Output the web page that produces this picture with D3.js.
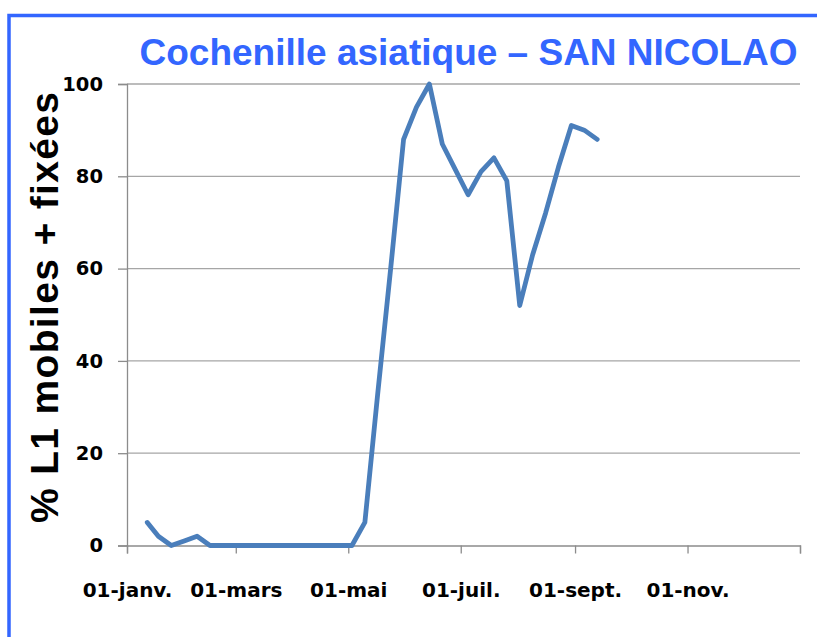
<!DOCTYPE html>
<html>
<head>
<meta charset="utf-8">
<script src="https://cdn.jsdelivr.net/npm/d3@7"></script>
<style>
  html, body { margin: 0; padding: 0; background: #ffffff; }
  svg { display: block; }
</style>
</head>
<body>
<svg id="chart" width="817" height="637"></svg>
<script>
// ---- data ----
const titleText = "Cochenille asiatique \u2013 SAN NICOLAO";
const yTitle = "% L1 mobiles + fixées";
const dates = [
  "2011-01-12","2011-01-18","2011-01-25","2011-02-01","2011-02-08","2011-02-15",
  "2011-02-22","2011-03-01","2011-03-08","2011-03-15","2011-03-22","2011-03-29",
  "2011-04-05","2011-04-12","2011-04-19","2011-04-26","2011-05-03","2011-05-10",
  "2011-05-17","2011-05-24","2011-05-31","2011-06-07","2011-06-14","2011-06-21",
  "2011-06-28","2011-07-05","2011-07-12","2011-07-19","2011-07-26","2011-08-02",
  "2011-08-09","2011-08-16","2011-08-23","2011-08-30","2011-09-06","2011-09-13"
];
const values = [
  5, 2, 0, 1, 2, 0,
  0, 0, 0, 0, 0, 0,
  0, 0, 0, 0, 0, 5,
  33, 60, 88, 95, 100, 87,
  81.5, 76, 81, 84, 79, 52,
  63, 72, 82, 91, 90, 88
];
const xTickDates = ["2011-01-01","2011-03-01","2011-05-01","2011-07-01","2011-09-01","2011-11-01","2012-01-01"];
const xTickLabels = ["01-janv.","01-mars","01-mai","01-juil.","01-sept.","01-nov.",""];
const yTicks = [0, 20, 40, 60, 80, 100];

// ---- layout ----
const svg = d3.select("#chart");
const pLeft = 127, pRight = 800, pTop = 84, pBottom = 545.5;
const parse = d3.timeParse("%Y-%m-%d");

const x = d3.scaleTime()
  .domain([parse("2011-01-01"), parse("2012-01-01")])
  .range([pLeft, pRight]);
const y = d3.scaleLinear().domain([0, 100]).range([pBottom, pTop]);

const gridColor = "#a6a6a6";
const axisColor = "#8c8c8c";
const labelFont = "'DejaVu Sans', Verdana, sans-serif";

// frame (blue border on left and top)
svg.append("path")
  .attr("d", `M9,637 L9,15.5 L817,15.5`)
  .attr("fill", "none")
  .attr("stroke", "#3366ff")
  .attr("stroke-width", 3.5);

// gridlines
svg.append("g")
  .selectAll("line")
  .data(yTicks.filter(d => d !== 0))
  .join("line")
  .attr("x1", pLeft).attr("x2", pRight)
  .attr("y1", d => y(d)).attr("y2", d => y(d))
  .attr("stroke", gridColor)
  .attr("stroke-width", 1.3);

// y axis
const yAxis = svg.append("g")
  .attr("transform", `translate(${pLeft},0)`)
  .call(d3.axisLeft(y).tickValues(yTicks).tickSize(9).tickPadding(15).tickFormat(d3.format("d")));
yAxis.select(".domain").attr("stroke", axisColor).attr("stroke-width", 1.3);
yAxis.selectAll(".tick line").attr("stroke", axisColor).attr("stroke-width", 1.3);
yAxis.selectAll(".tick text")
  .attr("fill", "#000")
  .style("font-family", labelFont)
  .style("font-weight", "bold")
  .style("font-size", "19.5px");

// x axis
const xAxis = svg.append("g")
  .attr("transform", `translate(0,${pBottom})`)
  .call(d3.axisBottom(x)
    .tickValues(xTickDates.map(parse))
    .tickSize(8)
    .tickPadding(29)
    .tickFormat((d, i) => xTickLabels[i]));
xAxis.select(".domain").attr("stroke", axisColor).attr("stroke-width", 1.3);
xAxis.selectAll(".tick line").attr("stroke", axisColor).attr("stroke-width", 1.3);
xAxis.selectAll(".tick text")
  .attr("fill", "#000")
  .style("font-family", labelFont)
  .style("font-weight", "bold")
  .style("font-size", "20px");

// line
const data = dates.map((d, i) => ({ date: parse(d), value: values[i] }));
svg.append("path")
  .datum(data)
  .attr("fill", "none")
  .attr("stroke", "#4a7ebb")
  .attr("stroke-width", 4.8)
  .attr("stroke-linejoin", "round")
  .attr("stroke-linecap", "round")
  .attr("d", d3.line().x(d => x(d.date)).y(d => y(d.value)));

// title
svg.append("text")
  .attr("x", 468.5)
  .attr("y", 65)
  .attr("text-anchor", "middle")
  .attr("fill", "#3366ff")
  .style("font-family", "'Liberation Sans', Arial, sans-serif")
  .style("font-weight", "bold")
  .style("font-size", "37px")
  .text(titleText);

// y axis title
svg.append("text")
  .attr("transform", `translate(58,307.5) rotate(-90)`)
  .attr("text-anchor", "middle")
  .attr("fill", "#000")
  .attr("textLength", 431)
  .attr("lengthAdjust", "spacing")
  .style("font-family", "'Liberation Sans', Arial, sans-serif")
  .style("font-weight", "bold")
  .style("font-size", "39px")
  .text(yTitle);
</script>
</body>
</html>
